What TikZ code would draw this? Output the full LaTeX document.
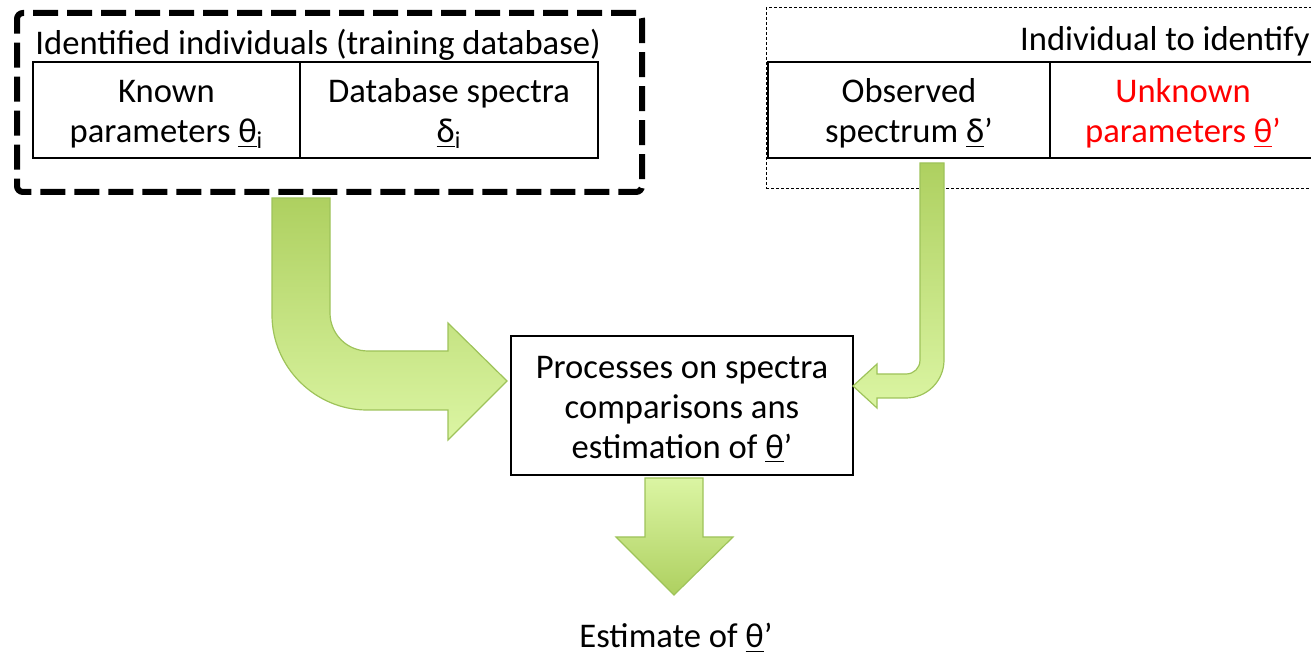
\documentclass[tikz,border=0pt]{standalone}
\usepackage{fontspec}
\setmainfont{Carlito}
\usetikzlibrary{positioning}
\definecolor{arrowtop}{RGB}{174,208,96}
\definecolor{arrowbot}{RGB}{219,245,163}
\definecolor{arrowline}{RGB}{158,195,90}
\newcommand{\topstrut}{\rule{0pt}{17pt}}
\newcommand{\botstrut}{\rule[-4pt]{0pt}{4pt}}

\begin{document}
\begin{tikzpicture}[x=0.5pt,y=-0.5pt,font=\fontsize{17.3}{20}\selectfont,
    cell/.style={draw,line width=0.7pt,outer sep=0pt,inner sep=0pt,align=center,minimum height=48pt},
    heavyframe/.style={draw,line width=3pt,dash pattern=on 12.5pt off 4.5pt,rounded corners=3pt,outer sep=0pt,anchor=north west},
    lightframe/.style={draw,line width=0.5pt,dash pattern=on 1.5pt off 1pt,outer sep=0pt,anchor=north west},
    plaintext/.style={inner sep=0pt},
    fatarrow/.style={draw=arrowline,line width=0.6pt,top color=arrowtop,bottom color=arrowbot},
    fatarrowdown/.style={draw=arrowline,line width=0.6pt,top color=arrowbot,bottom color=arrowtop}]
    \path[use as bounding box,clip] (0,0) rectangle (1311,656);
    \node[heavyframe,minimum width=312.5pt,minimum height=89.5pt] (trainset) at (17,13) {};
    \node[lightframe,minimum width=280pt,minimum height=90.5pt] (target) at (766,8) {};
    \node[plaintext,anchor=base west] (traintitle) at (35,55) {Identified individuals (training database)};
    \node[plaintext,anchor=base east] (targettitle) at (1310,51) {Individual to identify};
    \node[cell,minimum width=133.5pt,anchor=north west] (known) at (33,62) {\topstrut Known\\parameters \underline{θ}\textsubscript{i}\botstrut};
    \node[cell,minimum width=149pt,right=0pt of known] (dbspectra) {\topstrut Database spectra\\\underline{δ}\textsubscript{i}\botstrut};
    \node[cell,minimum width=141pt,anchor=north west] (observed) at (768,62) {\topstrut Observed\\spectrum \underline{δ}’\botstrut};
    \node[cell,minimum width=133pt,right=0pt of observed,text=red] (unknown) {\topstrut Unknown\\parameters \underline{θ}’\botstrut};
    \node[cell,line width=0.6pt,minimum width=171pt,minimum height=69.5pt] (process) at (682,405.5) {\topstrut Processes on spectra\\comparisons ans\\estimation of \underline{θ}’\botstrut};
    \node[plaintext,anchor=base] (estimate) at (676,648) {Estimate of \underline{θ}’};
    % block arrows
    \path[fatarrow] (272,198) -- (330,198) -- (330,313) .. controls +(0,21) and +(-21,0) .. (368,351)
        -- (448,351) -- (448,323) -- (507,381) -- (448,440) -- (448,410) -- (367,410)
        .. controls +(-52,0) and +(0,52) .. (272,315) -- cycle;
    \path[fatarrow] (920,163) -- (944,163) -- (944,360) .. controls +(0,21) and +(21,0) .. (906,398)
        -- (877,398) -- (877,408) -- (853,386) -- (877,364) -- (877,374) -- (906,374)
        .. controls +(8,0) and +(0,8) .. (920,360) -- cycle;
    \path[fatarrowdown] (645,478) -- (703,478) -- (703,537) -- (733,537) -- (674,595) -- (616,537) -- (645,537) -- cycle;
\end{tikzpicture}
\end{document}
